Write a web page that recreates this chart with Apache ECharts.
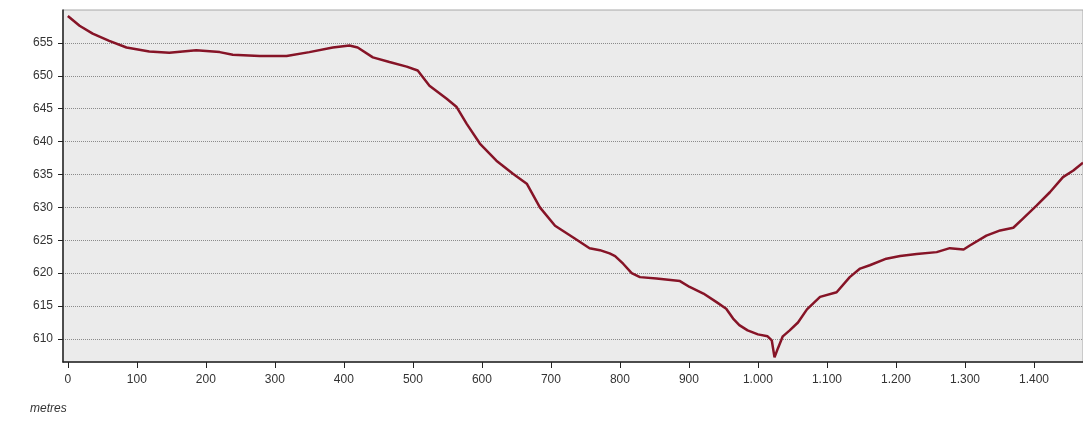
<!DOCTYPE html>
<html>
<head>
<meta charset="utf-8">
<script src="https://cdn.jsdelivr.net/npm/echarts@6/dist/echarts.min.js"></script>
<style>
  html, body { margin: 0; padding: 0; background: #fff; }
  #main { width: 1083px; height: 421px; }
</style>
</head>
<body>
<div id="main"></div>
<script>
// distance (metres) along the profile
const distance = [0, 17, 36, 60, 85, 118, 147, 186, 220, 239, 278, 317, 350, 384, 408, 420,
  442, 466, 491, 507, 524, 549, 563, 578, 597, 621, 645, 665, 684, 706, 734, 756, 771, 785,
  793, 805, 817, 829, 853, 887, 901, 921, 940, 954, 964, 973, 985, 1000, 1014, 1020, 1024,
  1029, 1036, 1046, 1058, 1071, 1090, 1114, 1133, 1148, 1162, 1186, 1206, 1230, 1259, 1278,
  1298, 1307, 1331, 1351, 1370, 1384, 1404, 1423, 1442, 1457, 1471];
// elevation
const elevation = [659.1, 657.6, 656.4, 655.3, 654.3, 653.7, 653.5, 653.9, 653.6, 653.2, 653.0, 653.0, 653.6, 654.3, 654.6, 654.3,
  652.8, 652.1, 651.4, 650.8, 648.5, 646.5, 645.3, 642.7, 639.7, 637.1, 635.1, 633.6, 630.0, 627.2, 625.3, 623.8, 623.5, 623.0,
  622.6, 621.4, 620.0, 619.4, 619.2, 618.8, 617.9, 616.9, 615.6, 614.6, 613.1, 612.1, 611.3, 610.7, 610.4, 609.8, 607.2,
  608.6, 610.4, 611.3, 612.5, 614.5, 616.4, 617.1, 619.4, 620.7, 621.2, 622.2, 622.6, 622.9, 623.2, 623.8,
  623.6, 624.2, 625.7, 626.5, 626.9, 628.3, 630.3, 632.3, 634.6, 635.6, 636.8];

const xTicks = [0, 100, 200, 300, 400, 500, 600, 700, 800, 900, 1000, 1100, 1200, 1300, 1400];
const yTicks = [610, 615, 620, 625, 630, 635, 640, 645, 650, 655];

const points = distance.map((d, i) => [d, elevation[i]]);

const chart = echarts.init(document.getElementById('main'));

// 1000 -> "1.000"
function fmt(v) {
  return String(v).replace(/\B(?=(\d{3})+(?!\d))/g, '.');
}

const labelFont = { fontFamily: 'Liberation Sans', fontSize: 12, color: '#333' };

chart.setOption({
  animation: false,
  grid: {
    left: 63, top: 10, right: 0, bottom: 59,
    show: true,
    backgroundColor: '#ebebeb',
    borderColor: '#a8a8a8',
    borderWidth: 1
  },
  graphic: [{
    type: 'text',
    left: 30, top: 403,
    style: { text: 'metres', font: 'italic 12px "Liberation Sans"', fill: '#333' }
  }],
  xAxis: {
    type: 'value',
    min: -7, max: 1471,
    axisLine: { show: true, onZero: false, lineStyle: { color: '#222', width: 1.5 } },
    axisTick: { show: true, length: 6, customValues: xTicks, lineStyle: { color: '#222' } },
    axisLabel: Object.assign({ margin: 12, customValues: xTicks, formatter: fmt }, labelFont),
    splitLine: { show: false }
  },
  yAxis: {
    type: 'value',
    min: 606.5, max: 660,
    axisLine: { show: true, onZero: false, lineStyle: { color: '#222', width: 1.5 } },
    axisTick: { show: true, length: 5, customValues: yTicks, lineStyle: { color: '#222' } },
    axisLabel: Object.assign({ margin: 10, customValues: yTicks }, labelFont),
    splitLine: { show: true, lineStyle: { type: 'dotted', color: '#8a8a8a', width: 1 } }
  },
  series: [{
    type: 'line',
    data: points,
    showSymbol: false,
    lineStyle: { color: '#861427', width: 2.5 }
  }]
});
</script>
</body>
</html>
